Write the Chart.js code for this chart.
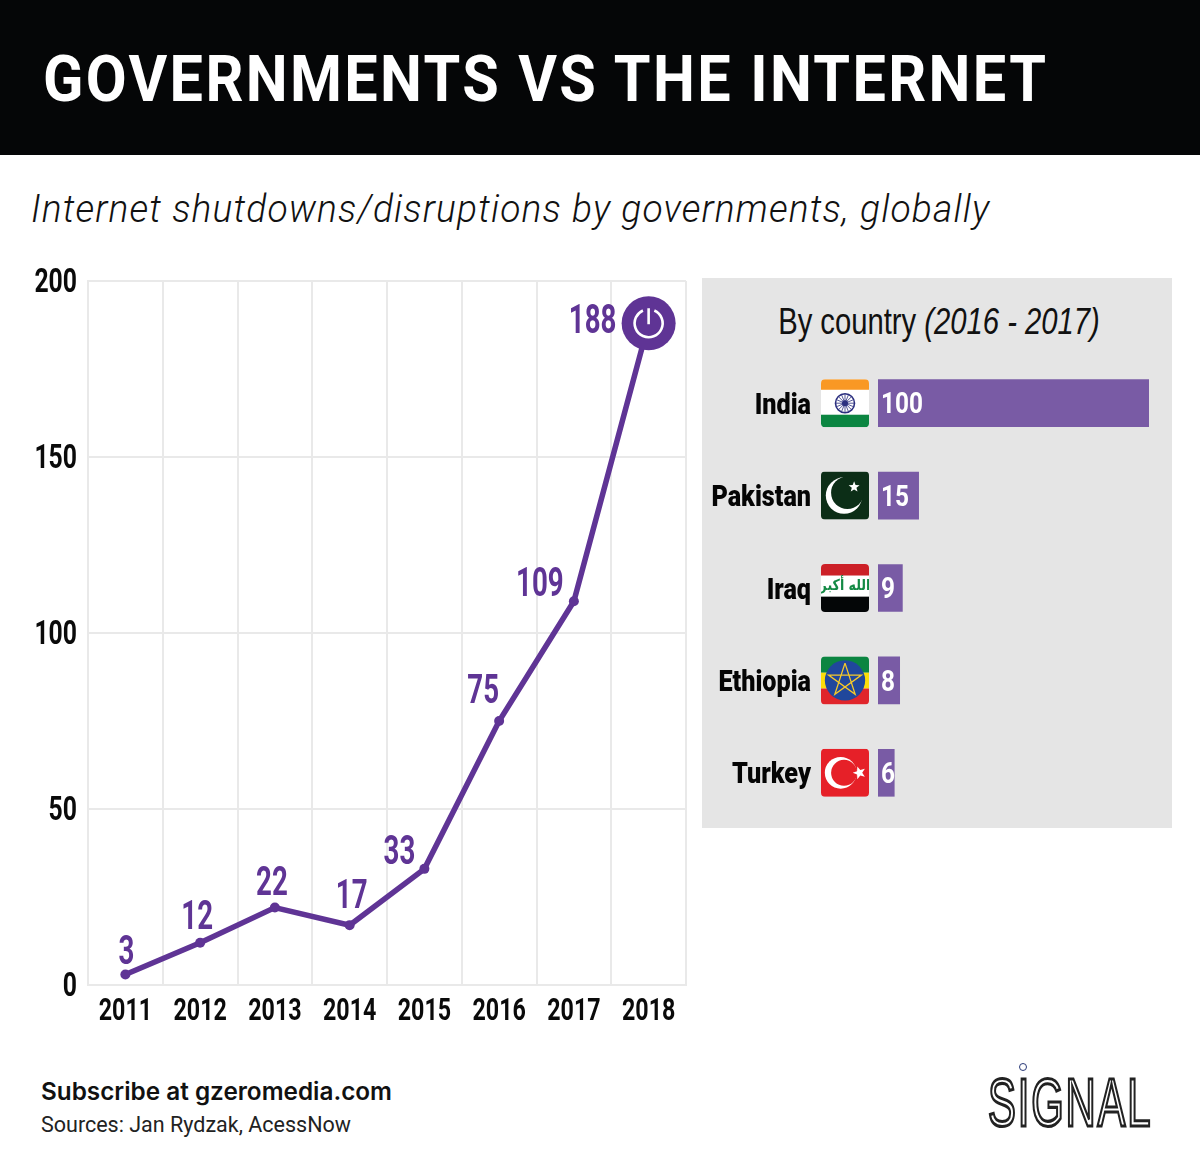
<!DOCTYPE html>
<html>
<head>
<meta charset="utf-8">
<script src="https://cdn.jsdelivr.net/npm/chart.js@4"></script>
<style>
  html, body { margin: 0; padding: 0; background: #fff; }
  #page { position: relative; width: 1200px; height: 1154px; overflow: hidden; }
  #page div, #page canvas { position: absolute; white-space: nowrap; }
  #header { left: 0; top: 0; width: 1200px; height: 155px; background: #050607; }
  #title { left: 43px; top: 41px; color: #fff; font: 700 65px Roboto, sans-serif; letter-spacing: 2.6px; line-height: 76px; transform: scaleX(0.913); transform-origin: left; }
  #subtitle { left: 31px; top: 185px; color: #111; font: italic 300 39px Roboto, sans-serif; letter-spacing: 1.2px; line-height: 48px; transform: scaleX(0.953); transform-origin: left; }
  #panel { left: 702px; top: 278px; width: 470px; height: 550px; background: #e5e5e5; }
  #panelTitle { left: 702px; top: 300px; width: 474px; text-align: center; color: #111; font: 37px "Liberation Sans", sans-serif; line-height: 44px; transform: scaleX(0.79); }
  #panelTitle i { font-style: italic; }
  #subscribe { left: 41px; top: 1076px; color: #111; font: 600 24.3px Inter, sans-serif; line-height: 30px; }
  #sources { left: 41px; top: 1111px; color: #222; font: 400 21.5px Roboto, sans-serif; line-height: 28px; }
  #signal { left: 988px; top: 1062px; color: #fff; font: 400 68px "Liberation Sans", sans-serif; letter-spacing: 3px; line-height: 80px; -webkit-text-stroke: 3.2px #222; transform: scaleX(0.615); transform-origin: left; }
  #signalDot { left: 1019px; top: 1063px; width: 6px; height: 6px; border: 1.5px solid #2a3a78; border-radius: 50%; }
</style>
</head>
<body>
<div id="page">
  <div id="header"></div>
  <div id="title">GOVERNMENTS VS THE INTERNET</div>
  <div id="subtitle">Internet shutdowns/disruptions by governments, globally</div>
  <canvas id="lineChart" width="700" height="790" style="left:0;top:260px"></canvas>
  <div id="panel"></div>
  <div id="panelTitle">By country <i>(2016 - 2017)</i></div>
  <canvas id="barChart" width="470" height="550" style="left:702px;top:278px"></canvas>
  <div id="subscribe">Subscribe at gzeromedia.com</div>
  <div id="sources">Sources: Jan Rydzak, AcessNow</div>
  <div id="signal">SIGNAL</div>
  <div id="signalDot"></div>
</div>
<script>
// data
const years = ['2011', '2012', '2013', '2014', '2015', '2016', '2017', '2018'];
const shutdowns = [3, 12, 22, 17, 33, 75, 109, 188];
const countries = ['India', 'Pakistan', 'Iraq', 'Ethiopia', 'Turkey'];
const countryCounts = [100, 15, 9, 8, 6];

const PURPLE = '#5f3495';
const FONT = 'Roboto, sans-serif';

// no condensed font on the box, so squeeze all canvas text horizontally
// (dy: roboto digits sit a bit high on the middle baseline)
function condense(factor, dy) {
  return {
    id: 'condense',
    beforeInit(chart) {
      const ctx = chart.ctx;
      const fillText = ctx.fillText.bind(ctx);
      ctx.fillText = function(text, x, y, maxWidth) {
        ctx.save();
        ctx.translate(x, y + dy);
        ctx.scale(factor, 1);
        fillText(text, 0, 0, maxWidth);
        ctx.restore();
      };
    }
  };
}

// value labels sit up and to the left of each point
const labelShift = [[1, -24], [-3, -27], [-3, -26], [2, -30], [-25, -18], [-16, -31], [-34, -19], [-56, -3]];

const lineLabels = {
  id: 'lineLabels',
  afterDatasetsDraw(chart) {
    const ctx = chart.ctx;
    const pts = chart.getDatasetMeta(0).data;
    ctx.save();
    ctx.fillStyle = PURPLE;
    ctx.font = '700 41px ' + FONT;
    ctx.textAlign = 'center';
    ctx.textBaseline = 'middle';
    shutdowns.forEach((v, i) => {
      ctx.save();
      ctx.translate(pts[i].x + labelShift[i][0], pts[i].y + labelShift[i][1]);
      ctx.scale(0.9, 1);
      ctx.fillText(String(v), 0, 0);
      ctx.restore();
    });

    // power icon on the last point
    const last = pts[pts.length - 1];
    ctx.strokeStyle = '#fff';
    ctx.lineWidth = 2.6;
    ctx.lineCap = 'butt';
    ctx.beginPath();
    ctx.arc(last.x, last.y, 14, -Math.PI / 2 + 0.42, -Math.PI / 2 - 0.42 + Math.PI * 2);
    ctx.stroke();
    ctx.beginPath();
    ctx.moveTo(last.x, last.y - 15);
    ctx.lineTo(last.x, last.y + 1);
    ctx.stroke();
    ctx.restore();
  }
};

// tick padding also ends up as scale padding and shrinks the plot, drop it
function fixScale(size) {
  return function(s) {
    if (s.isHorizontal()) {
      s.height = size;
      s.paddingLeft = s.paddingRight = 0;
    } else {
      s.width = size;
      s.paddingTop = s.paddingBottom = 0;
    }
  };
}

new Chart(document.getElementById('lineChart'), {
  type: 'line',
  data: {
    labels: years,
    datasets: [{
      data: shutdowns,
      borderColor: PURPLE,
      backgroundColor: PURPLE,
      borderWidth: 5.5,
      tension: 0,
      fill: false,
      pointRadius: [5, 5, 5, 5, 5, 5, 5, 27],
      pointBorderWidth: 0,
      clip: false
    }]
  },
  options: {
    responsive: false,
    animation: false,
    layout: { autoPadding: false, padding: { top: 21, right: 14, left: 0, bottom: 0 } },
    plugins: { legend: { display: false }, tooltip: { enabled: false } },
    scales: {
      x: {
        offset: true,
        grid: { offset: true, color: '#e9e9e9', lineWidth: 2, drawTicks: false },
        border: { color: '#e9e9e9', width: 2 },
        ticks: { color: '#0a0a0a', padding: 6, maxRotation: 0, autoSkip: false, font: { family: FONT, size: 31, weight: '700' } },
        afterFit: fixScale(65)
      },
      y: {
        min: 0,
        max: 200,
        grid: { color: '#e9e9e9', lineWidth: 2, drawTicks: false },
        border: { color: '#e9e9e9', width: 2 },
        ticks: { stepSize: 50, color: '#0a0a0a', padding: 11, font: { family: FONT, size: 33, weight: '700' } },
        afterFit: fixScale(88)
      }
    }
  },
  plugins: [condense(0.75, 3), lineLabels]
});

function star(ctx, cx, cy, r, rot) {
  ctx.beginPath();
  for (let i = 0; i < 10; i++) {
    const a = rot + i * Math.PI / 5;
    const rr = i % 2 ? r * 0.42 : r;
    ctx.lineTo(cx + Math.cos(a) * rr, cy + Math.sin(a) * rr);
  }
  ctx.closePath();
}

function crescent(ctx, cx, cy, r, ox, oy, ir, outer, inner) {
  ctx.fillStyle = outer;
  ctx.beginPath(); ctx.arc(cx, cy, r, 0, Math.PI * 2); ctx.fill();
  ctx.fillStyle = inner;
  ctx.beginPath(); ctx.arc(cx + ox, cy + oy, ir, 0, Math.PI * 2); ctx.fill();
}

// w is the flag width, everything inside is relative to it
const flags = {
  India(ctx, x, y, w) {
    ctx.fillStyle = '#fff'; ctx.fillRect(x, y, w, w);
    ctx.fillStyle = '#f99824'; ctx.fillRect(x, y, w, w * 0.22);
    ctx.fillStyle = '#0b8541'; ctx.fillRect(x, y + w * 0.74, w, w * 0.26);
    const cx = x + w / 2, cy = y + w / 2;
    ctx.strokeStyle = '#2b2f7f';
    ctx.lineWidth = 1.6;
    ctx.beginPath(); ctx.arc(cx, cy, 9.5, 0, Math.PI * 2); ctx.stroke();
    ctx.lineWidth = 0.8;
    for (let i = 0; i < 16; i++) {
      const a = i * Math.PI / 8;
      ctx.beginPath(); ctx.moveTo(cx, cy); ctx.lineTo(cx + Math.cos(a) * 9, cy + Math.sin(a) * 9); ctx.stroke();
    }
    ctx.fillStyle = '#2b2f7f';
    ctx.beginPath(); ctx.arc(cx, cy, 3, 0, Math.PI * 2); ctx.fill();
  },
  Pakistan(ctx, x, y, w) {
    ctx.fillStyle = '#0c2e17'; ctx.fillRect(x, y, w, w);
    crescent(ctx, x + w * 0.48, y + w * 0.5, w * 0.38, w * 0.07, -w * 0.06, w * 0.34, '#fff', '#0c2e17');
    ctx.fillStyle = '#fff';
    star(ctx, x + w * 0.69, y + w * 0.32, w * 0.12, -Math.PI / 2);
    ctx.fill();
  },
  Iraq(ctx, x, y, w) {
    ctx.fillStyle = '#fff'; ctx.fillRect(x, y, w, w);
    ctx.fillStyle = '#cc2027'; ctx.fillRect(x, y, w, w * 0.24);
    ctx.fillStyle = '#040607'; ctx.fillRect(x, y + w * 0.68, w, w * 0.32);
    ctx.fillStyle = '#148a45';
    ctx.font = 'bold 15px "DejaVu Sans", sans-serif';
    ctx.textAlign = 'center';
    ctx.textBaseline = 'middle';
    ctx.fillText('الله أكبر', x + w / 2, y + w * 0.4);
  },
  Ethiopia(ctx, x, y, w) {
    ctx.fillStyle = '#0b8541'; ctx.fillRect(x, y, w, w * 0.34);
    ctx.fillStyle = '#fcdd09'; ctx.fillRect(x, y + w * 0.34, w, w * 0.33);
    ctx.fillStyle = '#e0252b'; ctx.fillRect(x, y + w * 0.67, w, w * 0.33);
    const cx = x + w / 2, cy = y + w / 2;
    ctx.fillStyle = '#20479c';
    ctx.beginPath(); ctx.arc(cx, cy, w * 0.42, 0, Math.PI * 2); ctx.fill();
    ctx.strokeStyle = '#f5c92a';
    ctx.lineWidth = 1.3;
    const r = w * 0.36;
    ctx.beginPath();
    for (let i = 0; i < 6; i++) {
      const a = -Math.PI / 2 + i * 4 * Math.PI / 5;
      ctx.lineTo(cx + Math.cos(a) * r, cy + Math.sin(a) * r);
    }
    ctx.stroke();
  },
  Turkey(ctx, x, y, w) {
    ctx.fillStyle = '#e62028'; ctx.fillRect(x, y, w, w);
    crescent(ctx, x + w * 0.41, y + w * 0.5, w * 0.33, w * 0.07, 0, w * 0.27, '#fff', '#e62028');
    ctx.fillStyle = '#fff';
    star(ctx, x + w * 0.8, y + w * 0.5, w * 0.14, Math.PI);
    ctx.fill();
  }
};

const barExtras = {
  id: 'barExtras',
  afterDatasetsDraw(chart) {
    const ctx = chart.ctx;
    const bars = chart.getDatasetMeta(0).data;
    const w = 48;
    bars.forEach((bar, i) => {
      // flag
      ctx.save();
      const fx = chart.chartArea.left - 57;
      const fy = bar.y - w / 2;
      ctx.beginPath();
      ctx.roundRect(fx, fy, w, w, 4);
      ctx.clip();
      flags[countries[i]](ctx, fx, fy, w);
      ctx.restore();
      // value inside the bar
      ctx.save();
      ctx.fillStyle = '#fff';
      ctx.font = '700 29px ' + FONT;
      ctx.textAlign = 'left';
      ctx.textBaseline = 'middle';
      ctx.fillText(String(countryCounts[i]), chart.chartArea.left + 3, bar.y);
      ctx.restore();
    });
  }
};

new Chart(document.getElementById('barChart'), {
  type: 'bar',
  data: {
    labels: countries,
    datasets: [{ data: countryCounts, backgroundColor: '#795ba5', barThickness: 47 }]
  },
  options: {
    indexAxis: 'y',
    responsive: false,
    animation: false,
    layout: { autoPadding: false, padding: { top: 79, right: 23, bottom: 9, left: 0 } },
    plugins: { legend: { display: false }, tooltip: { enabled: false } },
    scales: {
      x: { display: false, min: 0, max: 100 },
      y: {
        grid: { display: false, drawTicks: false },
        border: { display: false },
        ticks: { color: '#050505', padding: 67, autoSkip: false, font: { family: FONT, size: 30, weight: '900' } },
        afterFit: fixScale(176)
      }
    }
  },
  plugins: [condense(0.84, 3), barExtras]
});
</script>
</body>
</html>
